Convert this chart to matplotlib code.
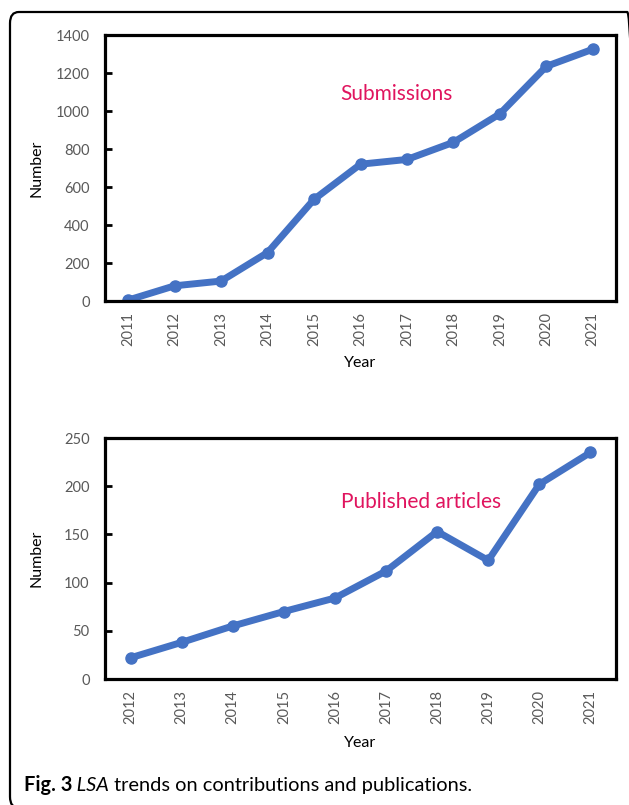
import matplotlib
matplotlib.use("Agg")
import matplotlib.pyplot as plt
from matplotlib.patches import FancyBboxPatch

plt.rcParams['font.family'] = ['Lato', 'DejaVu Sans']

# data
years_sub = ['2011', '2012', '2013', '2014', '2015', '2016', '2017', '2018', '2019', '2020', '2021']
submissions = [5, 80, 105, 255, 535, 720, 745, 835, 985, 1235, 1325]

years_pub = ['2012', '2013', '2014', '2015', '2016', '2017', '2018', '2019', '2020', '2021']
published = [22, 38, 55, 70, 84, 112, 153, 123, 202, 235]

W, H = 629, 805
fig = plt.figure(figsize=(W / 100, H / 100), dpi=100)

# rounded frame round the whole figure (right and bottom edges fall off the page)
box = FancyBboxPatch((10 / W, 1 - 808 / H), (636 - 10) / W, (808 - 12) / H,
                     boxstyle="round,pad=0,rounding_size=0.014",
                     transform=fig.transFigure, fill=False, ec='black', lw=1.6,
                     clip_on=False)
fig.patches.append(box)

blue = '#4472C4'
red = '#E0145E'
grey = '#595959'


def style(ax, n, ymax, step):
    ax.set_xlim(-0.5, n - 0.5)
    ax.set_ylim(0, ymax)
    ax.set_yticks(range(0, ymax + 1, step))
    for s in ax.spines.values():
        s.set_linewidth(2.3)
    ax.tick_params(axis='y', direction='in', length=5, width=2, labelsize=10.5,
                   labelcolor=grey, pad=11)
    ax.tick_params(axis='x', length=0, labelsize=10.5, labelcolor=grey,
                   rotation=90, pad=8)
    ax.set_ylabel('Number', fontsize=11.5)
    ax.set_xlabel('Year', fontsize=11.5)


ax1 = fig.add_axes([105 / W, 1 - 301 / H, 511 / W, 266 / H])
ax1.plot(years_sub, submissions, color=blue, lw=5, marker='o', ms=8,
         solid_capstyle='round')
style(ax1, len(years_sub), 1400, 200)
ax1.yaxis.set_label_coords(-0.121, 0.5)
ax1.xaxis.set_label_coords(0.5, -0.207)
ax1.text(0.571, 0.778, 'Submissions', transform=ax1.transAxes, color=red,
         fontsize=15, ha='center', va='center')

ax2 = fig.add_axes([105 / W, 1 - 679 / H, 511 / W, 241 / H])
ax2.plot(years_pub, published, color=blue, lw=5, marker='o', ms=8,
         solid_capstyle='round')
style(ax2, len(years_pub), 250, 50)
ax2.yaxis.set_label_coords(-0.121, 0.5)
ax2.xaxis.set_label_coords(0.5, -0.236)
ax2.text(0.618, 0.734, 'Published articles', transform=ax2.transAxes, color=red,
         fontsize=15, ha='center', va='center')

# caption with mixed styles
t1 = fig.text(24 / W, 1 - 791 / H, 'Fig. 3', fontsize=14.4, fontweight='bold',
              ha='left', va='baseline')
t2 = fig.text(0, 0, ' LSA', fontsize=14.4, style='italic')
t3 = fig.text(0, 0, ' trends on contributions and publications.', fontsize=14.4)
fig.canvas.draw()
r = fig.canvas.get_renderer()
x = t1.get_window_extent(r).x1
for t in (t2, t3):
    t.set_position((x / W, 1 - 791 / H))
    t.set_va('baseline')
    x = t.get_window_extent(r).x1

fig.savefig('out.png', dpi=100)
